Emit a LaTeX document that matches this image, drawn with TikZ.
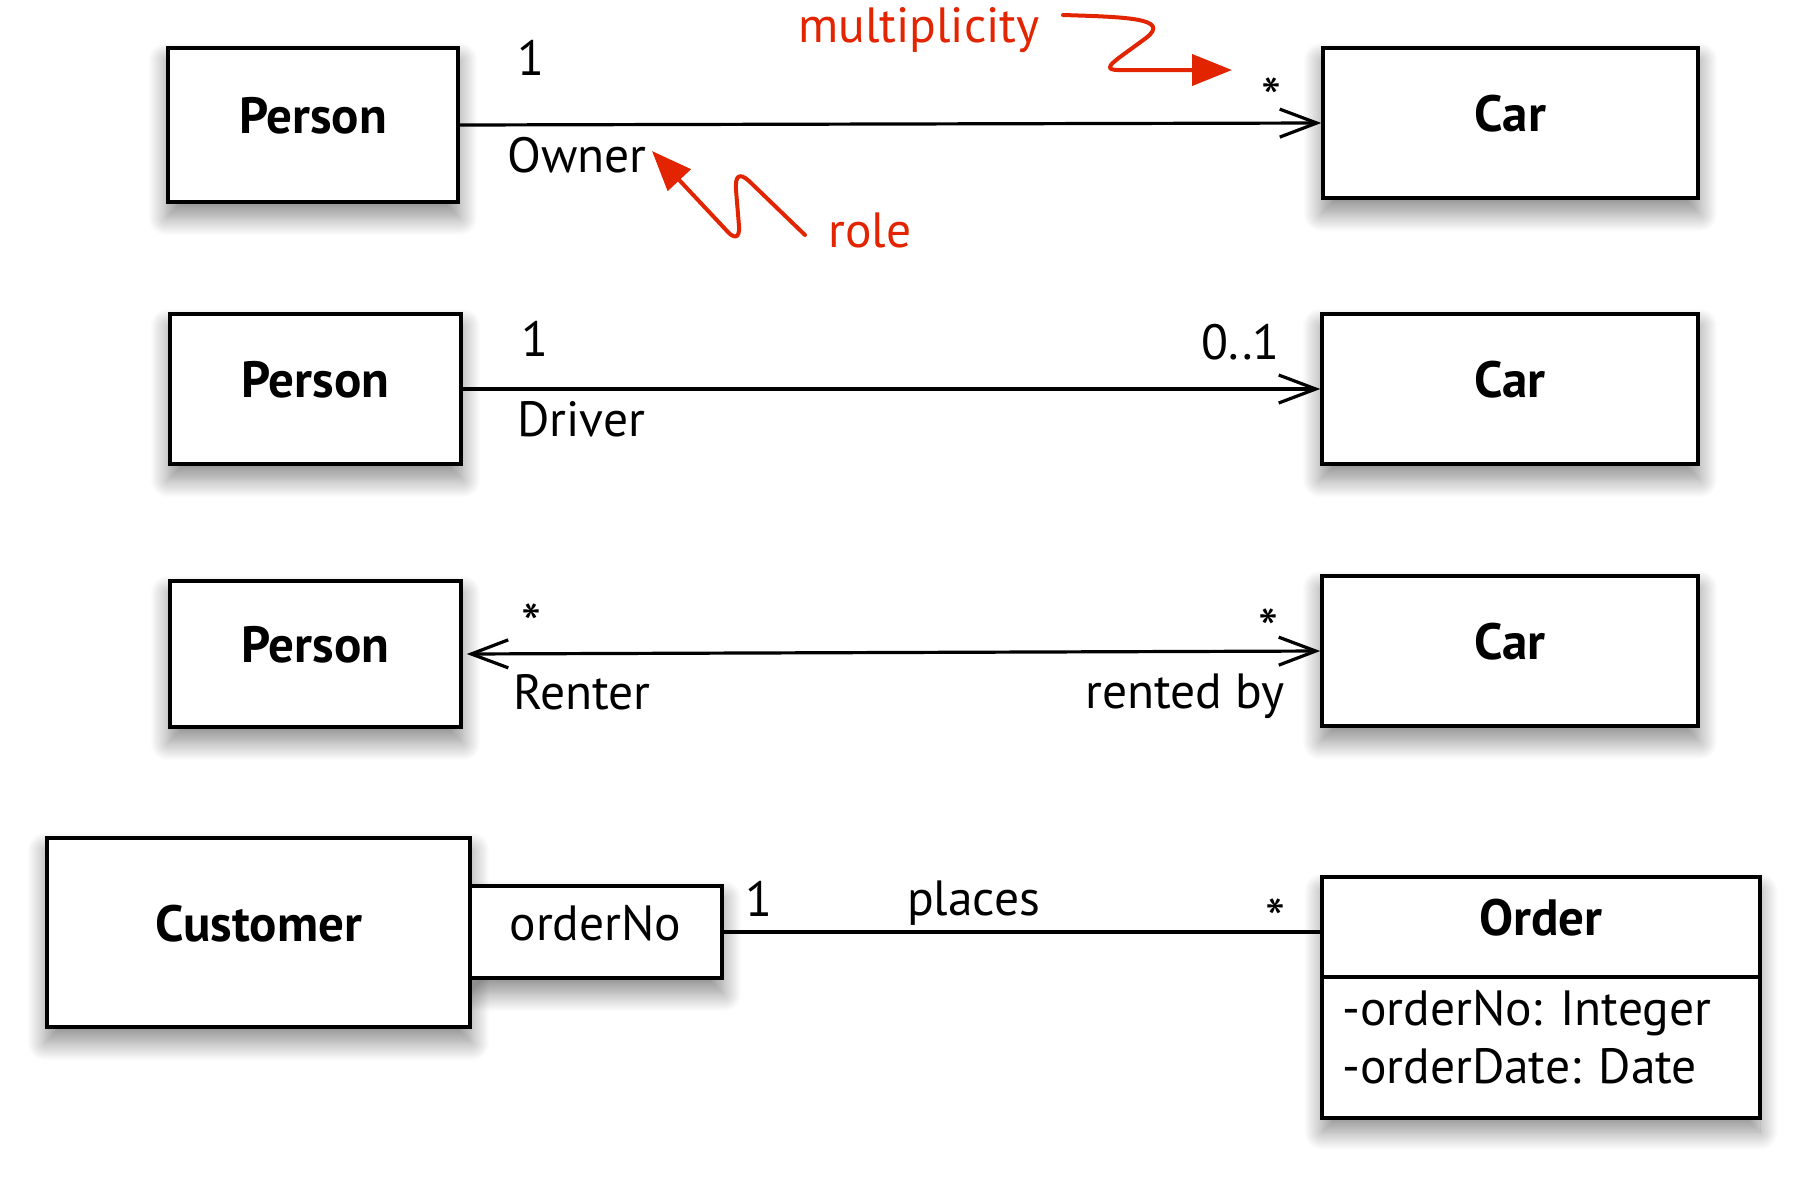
\documentclass[tikz,border=0pt]{standalone}
\usepackage{fontspec}
\setmainfont{PT Sans}
\usetikzlibrary{arrows.meta,shadows.blur}
\definecolor{markred}{RGB}{226,36,0}
\pgfdeclarelayer{background}
\pgfsetlayers{background,main}
\begin{document}
\begin{tikzpicture}[x=1pt,y=-1pt,
  lbl/.style={font=\fontsize{49.5}{58}\selectfont, inner sep=0pt},
  multstar/.style={font=\fontsize{57}{60}\selectfont, inner sep=0pt, anchor=base},
  redlbl/.style={lbl, text=markred},
  boxshadow/.style={blur shadow={shadow xshift=0pt,shadow yshift=-14pt,shadow blur radius=18pt,shadow opacity=45,shadow blur steps=24}},
  umlbox/.style={draw, line width=3.5pt, fill=white, inner sep=0pt,
    font=\fontsize{51}{58}\selectfont\bfseries, text height=36pt, text depth=19pt},
  plainbox/.style={umlbox, font=\fontsize{49.5}{58}\selectfont},
  assoc/.style={line width=3.2pt},
  nav/.style={assoc, -{Straight Barb[length=37pt,width=28pt]}},
  navboth/.style={assoc, {Straight Barb[length=37pt,width=28pt]}-{Straight Barb[length=37pt,width=28pt]}},
  note/.style={draw=markred, line width=4pt, line cap=round, line join=round, -{Triangle[length=40pt,width=31pt]}},
]
\useasboundingbox (0,0) rectangle (1804,1179);

% Row 1
\node[umlbox, minimum width=290pt, minimum height=154pt] (person1) at (313,125) {Person};
\node[umlbox, minimum width=375pt, minimum height=150pt] (car1) at (1510.5,123) {Car};
\draw[nav] (person1.east) -- (car1.west);
\node[lbl, anchor=base] (m1a) at (531,75) {1};
\node[multstar] (m1b) at (1271,118) {*};
\node[lbl, anchor=base west] (r1) at (507,172) {Owner};
\node[redlbl, anchor=base west] (multi) at (798,42) {multiplicity};
\node[redlbl, anchor=base west] (role) at (828,247) {role};
\coordinate (multiStart) at (1063,15);
\coordinate (multiEnd) at (1232,70);
\coordinate (roleStart) at (805,235);
\coordinate (roleEnd) at (652,151);
\draw[note] (multiStart) .. controls (1125,17) and (1172,18) .. (1146,38)
  -- (1120,57) .. controls (1100,72) and (1112,70) .. (1135,70) -- (multiEnd);
\draw[note] (roleStart) -- (749,181) .. controls (739,172) and (735,176) .. (736,190)
  -- (739,226) .. controls (740,240) and (733,238) .. (727,231) -- (roleEnd);

% Row 2
\node[umlbox, minimum width=291pt, minimum height=150pt] (person2) at (315.5,389) {Person};
\node[umlbox, minimum width=376pt, minimum height=150pt] (car2) at (1510,389) {Car};
\draw[nav] (person2.east) -- (car2.west);
\node[lbl, anchor=base] (m2a) at (535,356) {1};
\node[lbl, anchor=base east] (m2b) at (1280,359) {0..1};
\node[lbl, anchor=base west] (r2) at (517,436) {Driver};

% Row 3
\node[umlbox, minimum width=291pt, minimum height=146pt] (person3) at (315.5,654) {Person};
\node[umlbox, minimum width=376pt, minimum height=150pt] (car3) at (1510,651) {Car};
\draw[navboth, shorten <=4pt] (person3.east) -- (car3.west);
\node[multstar] (m3a) at (531,644) {*};
\node[multstar] (m3b) at (1268,649) {*};
\node[lbl, anchor=base west] (r3a) at (513,709) {Renter};
\node[lbl, anchor=base east] (r3b) at (1285,708) {rented by};

% Row 4
\node[plainbox, minimum width=253pt, minimum height=92pt] (orderNo) at (595.5,932) {orderNo};
\node[umlbox, minimum width=423pt, minimum height=189pt] (customer) at (258.5,932.5) {Customer};
\node[umlbox, outer sep=0pt, minimum width=438pt, minimum height=100pt] (orderHead) at (1541,927) {Order};
\node[plainbox, outer sep=0pt, minimum width=438pt, minimum height=141pt, anchor=north] (orderAttr) at (orderHead.south) {};
\node[lbl, anchor=base west] (attr1) at (1342,1025) {-orderNo: Integer};
\node[lbl, anchor=base west] (attr2) at (1342,1083) {-orderDate: Date};
\draw[assoc] (orderNo.east) -- (orderNo.east -| orderHead.west);
\node[lbl, anchor=base] (m4a) at (759,916) {1};
\node[lbl, anchor=base west] (r4) at (907,915) {places};
\node[multstar] (m4b) at (1275,939) {*};

% soft shadows behind the boxes
\begin{pgfonlayer}{background}
  \foreach \b in {person1,car1,person2,car2,person3,car3,customer,orderNo}
    \path[boxshadow] (\b.south west) rectangle (\b.north east);
  \path[boxshadow] (orderAttr.south west) rectangle (orderHead.north east);
\end{pgfonlayer}
\end{tikzpicture}
\end{document}
